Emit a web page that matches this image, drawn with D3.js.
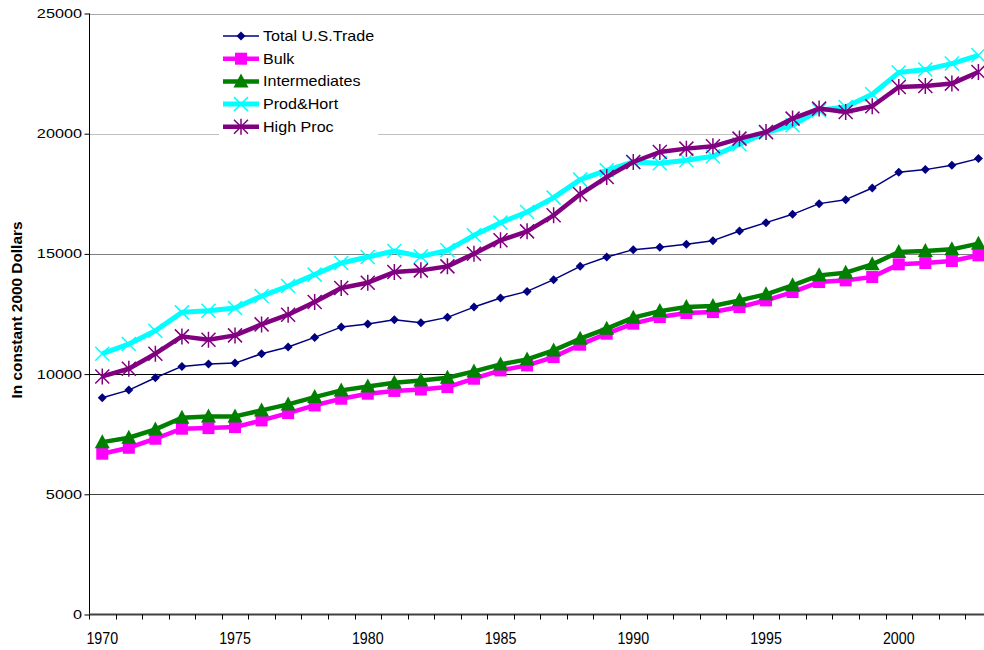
<!DOCTYPE html>
<html><head><meta charset="utf-8">
<script src="https://cdn.jsdelivr.net/npm/d3@7"></script>
<style>body{margin:0;background:#fff}svg{display:block}text{font-family:"Liberation Sans",Arial,sans-serif}</style>
</head><body><svg id="c" width="984" height="650"></svg>
<script>
const years = d3.range(1970, 2004);
const totalTrade = [9018,9334,9850,10320,10416,10458,10849,11124,11527,11956,12081,12264,12139,12360,12788,13163,13441,13928,14482,14869,15177,15273,15397,15551,15951,16300,16646,17091,17257,17740,18394,18506,18685,18964];
const bulk = [6688,6937,7311,7728,7753,7795,8073,8377,8697,8976,9184,9300,9360,9459,9808,10154,10362,10708,11223,11681,12097,12372,12539,12580,12788,13067,13413,13829,13899,14037,14565,14620,14703,14940];
const intermediates = [7170,7353,7699,8185,8240,8240,8490,8739,9043,9322,9488,9640,9738,9850,10112,10404,10612,10986,11473,11889,12347,12620,12788,12830,13067,13317,13691,14107,14220,14565,15077,15119,15189,15426];
const prodHort = [10849,11249,11806,12568,12638,12747,13246,13662,14137,14620,14869,15119,14898,15148,15772,16300,16742,17341,18090,18477,18823,18770,18893,19060,19559,20046,20349,20974,21111,21640,22543,22667,22917,23262];
const highProc = [9904,10224,10849,11569,11432,11610,12068,12471,12996,13579,13803,14245,14315,14482,15010,15564,15938,16604,17478,18198,18823,19238,19379,19475,19796,20071,20628,21044,20903,21140,21943,21985,22084,22568];
const yTicks = [0,5000,10000,15000,20000,25000];
const yearLabels = [1970,1975,1980,1985,1990,1995,2000];
const seriesNames = ["Total U.S.Trade","Bulk","Intermediates","Prod&Hort","High Proc"];

const svg = d3.select("#c");
const x = d3.scaleBand().domain(years).range([89, 89 + 34*26.55]);
const y = d3.scaleLinear().domain([0,25000]).range([614.5, 13.5]);
const cx = d => x(d) + x.bandwidth()/2;

const gridColors = {0:"none",5000:"#404040",10000:"#000000",15000:"#808080",20000:"#c0c0c0",25000:"#a8a8a8"};
svg.append("g").selectAll("line").data(yTicks.filter(t=>t>0)).join("line")
  .attr("x1",89).attr("x2",984).attr("y1",d=>Math.round(y(d))+0.5).attr("y2",d=>Math.round(y(d))+0.5)
  .attr("stroke",d=>gridColors[d]).attr("stroke-width",1);

const ya = svg.append("g").attr("transform","translate(89.5,0)")
  .call(d3.axisLeft(y).tickValues(yTicks).tickSize(5).tickFormat(""));
ya.select(".domain").attr("stroke","#000").attr("d", `M0,${y(25000)}V${y(0)}`);
ya.selectAll(".tick line").attr("stroke","#000");
svg.append("g").selectAll("text").data(yTicks).join("text")
  .attr("transform",d=>`translate(82,${y(d)+4.5}) scale(1.3,1)`)
  .attr("text-anchor","end").attr("font-size","12.5px").attr("fill","#000").text(d3.format("d"));

const xa = svg.append("g").attr("transform",`translate(0,${y(0)})`);
xa.append("line").attr("x1",89).attr("x2",984).attr("y1",0).attr("y2",0).attr("stroke","#404040").attr("stroke-width",2);
xa.selectAll("line.tk").data(years).join("line").attr("class","tk")
  .attr("x1",d=>Math.round(x(d))+0.5).attr("x2",d=>Math.round(x(d))+0.5).attr("y1",0).attr("y2",5).attr("stroke","#000");
xa.selectAll("text").data(yearLabels).join("text")
  .attr("transform",d=>`translate(${cx(d)},${29}) scale(0.95,1.08)`)
  .attr("text-anchor","middle").attr("font-size","15px").text(d=>d);

svg.append("text").attr("transform","translate(22,310) rotate(-90) scale(1.1,1)").attr("text-anchor","middle")
  .attr("font-size","14px").attr("font-weight","bold").text("In constant 2000 Dollars");

const series = [
  {name:seriesNames[0], vals:totalTrade, color:"#000080", w:1.5, m:"diamond"},
  {name:seriesNames[1], vals:bulk, color:"#FF00FF", w:4.5, m:"square"},
  {name:seriesNames[2], vals:intermediates, color:"#008000", w:4.5, m:"triangle"},
  {name:seriesNames[3], vals:prodHort, color:"#00FFFF", w:5, m:"x"},
  {name:seriesNames[4], vals:highProc, color:"#800080", w:4.5, m:"star"}
];

function marker(g, type, color, px, py){
  if(type==="diamond") g.append("path").attr("d",`M${px},${py-4.5}L${px+4.5},${py}L${px},${py+4.5}L${px-4.5},${py}Z`).attr("fill",color);
  else if(type==="square") g.append("rect").attr("x",px-6).attr("y",py-6).attr("width",12).attr("height",12).attr("fill",color);
  else if(type==="triangle") g.append("path").attr("d",`M${px},${py-8}L${px+7.5},${py+6}L${px-7.5},${py+6}Z`).attr("fill",color);
  else if(type==="x") g.append("path").attr("d",`M${px-7},${py-7}L${px+7},${py+7}M${px-7},${py+7}L${px+7},${py-7}`).attr("stroke",color).attr("stroke-width",1.5);
  else if(type==="star") g.append("path").attr("d",`M${px-7},${py-7}L${px+7},${py+7}M${px-7},${py+7}L${px+7},${py-7}M${px},${py-8}L${px},${py+8}`).attr("stroke",color).attr("stroke-width",1.5);
}

const line = d3.line().x((d,i)=>cx(years[i])).y(d=>y(d));
series.forEach(s=>{
  const g = svg.append("g");
  g.append("path").datum(s.vals).attr("d",line).attr("fill","none").attr("stroke",s.color).attr("stroke-width",s.w).attr("stroke-linejoin","round");
  s.vals.forEach((v,i)=>marker(g,s.m,s.color,cx(years[i]),y(v)));
});

const lg = svg.append("g");
lg.append("rect").attr("x",219).attr("y",22).attr("width",159).attr("height",123).attr("fill","#fff");
series.forEach((s,i)=>{
  const ly = 36 + i*22.7;
  lg.append("line").attr("x1",223).attr("x2",259).attr("y1",ly).attr("y2",ly).attr("stroke",s.color).attr("stroke-width",s.w);
  marker(lg,s.m,s.color,241,ly);
  lg.append("text").attr("transform",`translate(263,${ly+5}) scale(1.15,1)`).attr("font-size","14px").text(s.name);
});
</script></body></html>
